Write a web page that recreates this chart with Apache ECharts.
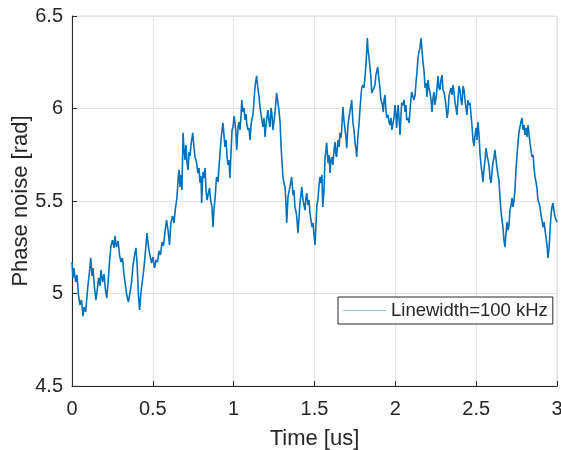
<!DOCTYPE html>
<html>
<head>
<meta charset="utf-8">
<script src="https://cdn.jsdelivr.net/npm/echarts@6/dist/echarts.min.js"></script>
<style>
  html, body { margin: 0; padding: 0; background: #ffffff; }
  #chart { width: 561px; height: 450px; }
</style>
</head>
<body>
<div id="chart"></div>
<script>
// Sample times (us) of the phase-noise trace, one line per stretch of the record
const timeUs = [
  0.000,0.006,0.012,0.022,0.031,0.040,0.049,0.059,0.068,0.074,0.084,0.093,0.099,0.108,0.116,0.124,0.130,0.139,0.148,0.156,0.164,0.173,0.179,0.189,0.198,0.207,0.215,0.223,0.232,0.241,0.251,0.260,0.266,0.275,0.285,0.294,0.303,0.312,0.322,0.331,0.340,0.349,0.359,0.368,0.377,0.387,0.396,0.404,0.411,0.418,0.427,0.436,0.445,0.455,0.464,0.473,0.482,0.492,0.501,0.510,0.520,0.529,0.538,0.547,0.557,0.566,0.575,0.585,0.594,0.603,0.612,0.622,0.631,0.640,0.649,0.656,
  0.662,0.668,0.674,0.680,0.687,0.693,0.699,0.705,0.711,0.718,0.724,0.730,0.736,0.747,0.755,0.761,0.770,0.779,0.786,0.792,0.798,0.802,0.810,0.816,0.823,0.829,0.835,0.841,0.851,0.857,0.866,0.872,0.878,0.885,0.894,0.903,0.909,0.915,0.922,0.928,0.934,0.940,0.946,0.953,0.959,0.965,0.971,0.977,0.984,0.990,0.996,1.002,1.008,
  1.014,1.019,1.027,1.033,1.039,1.045,1.050,1.058,1.064,1.070,1.076,1.082,1.089,1.095,1.101,1.107,1.112,1.120,1.126,1.132,1.138,1.142,1.151,1.157,1.163,1.169,1.175,1.181,1.188,1.194,1.200,1.204,1.212,1.219,1.225,1.231,1.237,1.243,1.249,1.256,1.262,1.266,1.274,1.280,1.287,1.293,1.297,1.305,1.311,1.318,1.324,1.328,1.336,1.342,1.348,1.355,1.359,1.367,1.373,1.379,1.386,1.390,1.398,1.404,1.410,1.416,1.421,1.429,1.435,1.441,1.447,1.452,1.460,1.466,1.472,1.478,1.485,1.491,1.497,1.503,1.509,1.515,1.522,
  1.528,1.534,1.540,1.546,1.551,1.559,1.565,1.571,1.575,1.584,1.590,1.596,1.602,1.606,1.614,1.621,1.627,1.633,1.637,1.645,1.652,1.658,1.664,1.668,1.676,1.682,1.689,1.695,1.699,1.707,1.713,1.720,1.726,1.730,1.738,1.744,1.751,1.757,1.761,1.769,1.775,1.781,1.788,1.792,1.800,1.806,1.812,1.819,1.827,1.831,1.837,1.843,1.850,1.854,1.862,1.868,1.874,1.880,1.887,1.891,1.899,1.905,1.911,1.918,1.926,1.930,1.936,1.942,1.947,1.955,1.961,1.967,1.973,1.979,1.986,1.992,1.998,
  2.004,2.008,2.017,2.023,2.029,2.035,2.039,2.047,2.054,2.060,2.066,2.070,2.078,2.085,2.091,2.097,2.101,2.109,2.115,2.122,2.128,2.134,2.140,2.146,2.153,2.159,2.165,2.171,2.177,2.184,2.190,2.196,2.202,2.208,2.214,2.221,2.227,2.233,2.239,2.245,2.252,2.258,2.264,2.270,2.276,2.282,2.289,2.295,2.301,2.307,2.313,2.320,2.326,2.332,2.338,2.344,2.351,2.357,2.363,2.369,2.375,2.381,2.388,2.394,2.400,2.406,2.412,2.419,2.425,2.431,2.437,2.443,2.449,2.456,2.462,
  2.468,2.474,2.480,2.487,2.493,2.499,2.505,2.511,2.518,2.524,2.530,2.536,2.542,2.548,2.555,2.561,2.567,2.573,2.579,2.586,2.592,2.598,2.604,2.610,2.616,2.623,2.629,2.635,2.641,2.647,2.654,2.660,2.666,2.672,2.678,2.685,2.691,2.697,2.703,2.709,2.716,2.722,2.728,2.734,2.740,2.746,2.753,2.759,2.765,2.771,2.777,2.784,2.790,2.796,2.802,2.808,2.814,2.821,2.827,2.833,2.839,2.845,2.852,2.858,2.864,2.870,2.876,2.882,2.889,2.895,2.901,2.907,2.913,2.920,2.926,2.932,2.938,2.944,2.951,2.957,2.963,2.969,2.975,2.981,2.988,2.994,3.000
];

// Phase noise (rad) at each sample time
const phaseRad = [
  5.170,5.084,5.138,5.062,5.100,4.992,4.938,4.965,4.878,4.927,4.900,4.986,5.046,5.116,5.192,5.095,5.138,5.030,4.965,5.019,5.084,5.041,5.127,5.062,5.105,5.019,4.976,5.057,5.170,5.257,5.289,5.246,5.311,5.251,5.284,5.208,5.170,5.192,5.100,5.041,4.986,4.954,5.008,5.057,5.149,5.208,5.246,5.138,4.992,4.911,5.008,5.073,5.138,5.235,5.327,5.251,5.208,5.165,5.197,5.138,5.181,5.170,5.230,5.208,5.278,5.257,5.332,5.397,5.343,5.262,5.386,5.419,5.381,5.462,5.516,5.614,
  5.668,5.576,5.641,5.559,5.868,5.776,5.722,5.803,5.711,5.668,5.765,5.743,5.803,5.868,5.786,5.738,5.711,5.651,5.678,5.597,5.635,5.489,5.657,5.624,5.678,5.559,5.505,5.532,5.570,5.505,5.468,5.359,5.451,5.516,5.630,5.603,5.678,5.749,5.830,5.884,5.922,5.857,5.792,5.830,5.738,5.695,5.722,5.624,5.776,5.884,5.900,5.959,5.927,
  5.868,5.776,5.900,5.927,5.884,5.949,6.046,5.981,6.003,5.938,5.970,5.911,5.884,5.895,5.830,5.905,5.938,5.970,6.046,6.116,6.154,6.176,6.100,6.062,6.008,5.970,5.938,5.900,5.949,5.846,5.911,5.938,5.992,5.927,5.900,6.003,5.965,5.884,5.927,5.981,6.046,6.084,6.030,5.992,5.927,5.803,5.738,5.630,5.597,5.576,5.478,5.381,5.522,5.549,5.576,5.614,5.630,5.532,5.559,5.468,5.441,5.414,5.327,5.408,5.489,5.532,5.576,5.505,5.478,5.451,5.516,5.543,5.478,5.505,5.435,5.397,5.359,5.381,5.316,5.262,5.370,5.478,5.516,
  5.586,5.630,5.597,5.641,5.468,5.559,5.732,5.776,5.814,5.705,5.749,5.651,5.722,5.738,5.695,5.776,5.819,5.749,5.738,5.830,5.792,5.868,5.841,5.884,6.008,5.938,5.884,5.841,5.786,5.911,5.949,5.954,6.019,6.046,5.922,5.884,5.814,5.776,5.738,5.857,5.911,5.992,6.073,6.111,6.127,6.111,6.165,6.246,6.381,6.316,6.278,6.224,6.154,6.084,6.100,6.111,6.127,6.181,6.208,6.224,6.154,6.111,6.046,6.030,5.981,6.046,6.073,5.992,5.949,5.965,5.927,5.911,5.949,5.884,5.922,5.949,6.019,
  5.965,5.895,6.019,5.949,5.857,5.965,6.030,6.019,6.046,5.981,6.019,5.938,5.949,5.922,5.992,6.057,6.089,6.089,6.046,6.073,6.143,6.197,6.273,6.305,6.332,6.381,6.316,6.251,6.208,6.111,6.138,6.062,6.154,6.111,6.089,6.046,5.981,6.057,6.089,6.019,6.057,6.111,6.176,6.111,6.100,6.154,6.181,6.100,6.089,6.057,6.019,5.949,5.981,6.068,6.089,6.111,6.073,6.127,6.089,6.035,6.003,5.965,6.057,6.122,6.100,6.046,6.019,6.122,6.100,6.046,6.003,5.965,6.046,6.019,6.030,
  5.965,5.911,5.830,5.797,5.857,5.895,5.830,5.927,5.857,5.749,5.695,5.651,5.603,5.668,5.722,5.786,5.749,5.722,5.695,5.624,5.597,5.657,5.711,5.732,5.776,5.722,5.678,5.641,5.614,5.522,5.441,5.397,5.354,5.289,5.251,5.332,5.386,5.343,5.370,5.451,5.478,5.516,5.468,5.505,5.559,5.668,5.749,5.819,5.873,5.900,5.927,5.949,5.884,5.911,5.857,5.895,5.846,5.911,5.857,5.814,5.776,5.738,5.749,5.678,5.630,5.603,5.570,5.505,5.489,5.468,5.424,5.397,5.359,5.386,5.343,5.305,5.262,5.192,5.246,5.343,5.424,5.468,5.489,5.451,5.414,5.424,5.386
];

// Axis ranges and tick spacing
const xRange = [0, 3];
const xStep = 0.5;
const yRange = [4.5, 6.5];
const yStep = 0.5;

const seriesName = 'Linewidth=100 kHz';
const xTitle = 'Time [us]';
const yTitle = 'Phase noise [rad]';

const ink = '#262626';
const gridInk = '#e3e3e3';
const traceBlue = '#0072BD';
const fontFamily = '"Liberation Sans", Arial, Helvetica, sans-serif';

const n = Math.min(timeUs.length, phaseRad.length);
const points = [];
for (let i = 0; i < n; i++) points.push([timeUs[i], phaseRad[i]]);

const chart = echarts.init(document.getElementById('chart'), null, { renderer: 'canvas' });

chart.setOption({
  animation: false,
  backgroundColor: '#ffffff',
  textStyle: { fontFamily: fontFamily, color: ink },
  grid: {
    left: 72, right: 4, top: 16, bottom: 64,
    outerBoundsMode: 'none',
    containLabel: false,
    show: true, borderColor: '#d9d9d9', borderWidth: 1, backgroundColor: '#ffffff'
  },
  xAxis: {
    type: 'value', min: xRange[0], max: xRange[1], interval: xStep,
    name: xTitle, nameLocation: 'middle', nameGap: 42, nameMoveOverlap: false,
    nameTextStyle: { fontSize: 22, color: ink, fontFamily: fontFamily },
    axisLine: { show: true, onZero: false, lineStyle: { color: ink, width: 1 } },
    axisTick: { show: true, inside: true, length: 5, lineStyle: { color: ink, width: 1 } },
    axisLabel: { fontSize: 20, color: ink, margin: 13, fontFamily: fontFamily },
    splitLine: { show: true, lineStyle: { color: gridInk, width: 1 } }
  },
  yAxis: {
    type: 'value', min: yRange[0], max: yRange[1], interval: yStep,
    name: yTitle, nameLocation: 'middle', nameGap: 40, nameRotate: 90, nameMoveOverlap: false,
    nameTextStyle: { fontSize: 22, color: ink, fontFamily: fontFamily },
    axisLine: { show: true, onZero: false, lineStyle: { color: ink, width: 1 } },
    axisTick: { show: true, inside: true, length: 5, lineStyle: { color: ink, width: 1 } },
    axisLabel: { fontSize: 20, color: ink, margin: 9, fontFamily: fontFamily },
    splitLine: { show: true, lineStyle: { color: gridInk, width: 1 } }
  },
  legend: {
    left: 338, top: 297,
    padding: [4, 5, 4, 5],
    itemWidth: 43, itemHeight: 2, itemGap: 0,
    selectedMode: false,
    backgroundColor: '#ffffff',
    borderColor: ink, borderWidth: 1, borderRadius: 0,
    textStyle: { fontSize: 18.5, color: ink, fontFamily: fontFamily, lineHeight: 19 },
    data: [{
      name: seriesName,
      icon: 'path://M0,0 L100,0 L100,1 L0,1 Z',
      itemStyle: { color: '#2a84cb' }
    }]
  },
  series: [{
    name: seriesName,
    type: 'line',
    data: points,
    symbol: 'none',
    showSymbol: false,
    clip: true,
    lineStyle: { color: traceBlue, width: 1.6 },
    itemStyle: { color: traceBlue }
  }]
});
</script>
</body>
</html>
